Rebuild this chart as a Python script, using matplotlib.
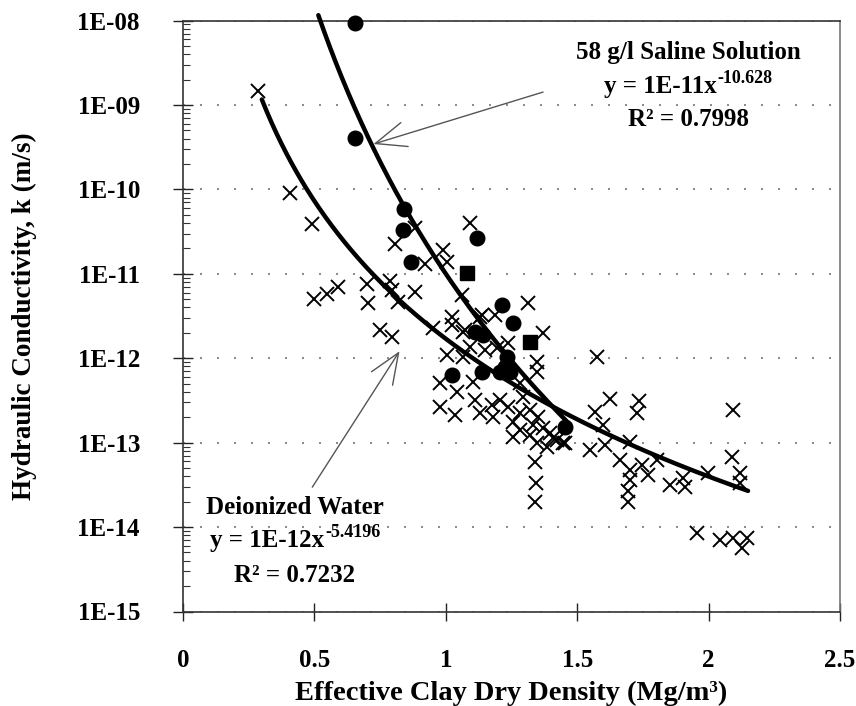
import numpy as np
import matplotlib
matplotlib.use("Agg")
import matplotlib.pyplot as plt
from matplotlib.ticker import LogLocator, NullFormatter, FixedLocator

plt.rcParams['font.family'] = ['Liberation Serif', 'DejaVu Serif']
plt.rcParams['font.weight'] = 'bold'

# ---- data: deionized water (x markers) ----
di_x = [0.285, 0.407, 0.491, 0.498, 0.548, 0.590, 0.700, 0.704, 0.788, 0.795,
        0.818, 0.807, 0.883, 0.921, 0.989, 1.005, 1.092, 0.883, 1.024, 1.062,
        1.138, 1.187, 0.750, 0.795, 0.951, 1.024, 1.065, 1.130, 1.313, 1.370,
        1.073, 1.092, 1.149, 1.195, 1.237, 1.005, 1.065, 1.347, 1.347, 0.978,
        1.043, 0.978, 1.035, 1.104, 1.282, 1.111, 1.130, 1.176, 1.180, 1.206,
        1.237, 1.256, 1.282, 1.294, 1.320, 1.351, 1.332, 1.370, 1.396, 1.423,
        1.446, 1.282, 1.320, 1.347, 1.385, 1.408, 1.256, 1.339, 1.343, 1.339,
        1.575, 1.625, 1.568, 1.735, 1.728, 1.598, 2.093, 1.454, 1.549, 1.606,
        1.701, 1.663, 1.701, 1.701, 1.693, 1.693, 1.747, 1.769, 1.804, 1.853,
        1.910, 1.903, 1.998, 2.089, 2.119, 2.119, 1.956, 2.043, 2.093, 2.146,
        2.127]
di_k = [1.46e-9, 9.0e-11, 3.9e-11, 5.0e-12, 5.7e-12, 7.0e-12, 7.5e-12, 4.5e-12, 8.2e-12, 6.4e-12,
        4.6e-12, 2.25e-11, 3.5e-11, 1.30e-11, 1.91e-11, 1.38e-11, 4.0e-11, 6.1e-12, 3.07e-12, 5.6e-12,
        3.24e-12, 3.24e-12, 2.15e-12, 1.78e-12, 2.28e-12, 2.47e-12, 2.04e-12, 3.07e-12, 4.5e-12, 1.98e-12,
        2.15e-12, 1.35e-12, 1.25e-12, 1.32e-12, 1.51e-12, 1.09e-12, 1.03e-12, 9.0e-13, 6.8e-13, 5.1e-13,
        3.96e-13, 2.64e-13, 2.12e-13, 5.2e-13, 5.1e-13, 3.18e-13, 2.24e-13, 2.78e-13, 2.0e-13, 3.18e-13,
        2.64e-13, 1.75e-13, 2.24e-13, 3.46e-13, 2.43e-13, 2.0e-13, 1.61e-13, 1.49e-13, 1.29e-13, 1.07e-13,
        9.9e-14, 1.41e-13, 1.23e-13, 9.9e-14, 8.8e-14, 1.13e-13, 1.16e-13, 5.9e-14, 3.3e-14, 1.97e-14,
        1.03e-12, 3.27e-13, 2.30e-13, 3.10e-13, 2.24e-13, 1.61e-13, 2.43e-13, 9.9e-14, 8.1e-14, 9.3e-14,
        1.01e-13, 6.2e-14, 4.7e-14, 3.6e-14, 2.7e-14, 1.97e-14, 5.4e-14, 4.1e-14, 6.2e-14, 3.13e-14,
        2.97e-14, 3.8e-14, 4.4e-14, 6.7e-14, 4.4e-14, 3.3e-14, 8.5e-15, 7.0e-15, 7.4e-15, 7.4e-15,
        5.6e-15]

# ---- data: 58 g/l saline solution (filled markers) ----
sal_x = [0.654, 0.654, 0.841, 0.837, 0.868, 1.119, 1.214, 1.256, 1.111, 1.142,
         1.233, 1.225, 1.024, 1.138, 1.206, 1.244, 1.454]
sal_k = [9.3e-9, 4.05e-10, 5.8e-11, 3.3e-11, 1.38e-11, 2.65e-11, 4.26e-12, 2.6e-12, 2.04e-12, 1.88e-12,
         1.03e-12, 7.85e-13, 6.3e-13, 6.8e-13, 6.8e-13, 6.8e-13, 1.53e-13]
sal_sq_x = [1.081, 1.320]
sal_sq_k = [1.02e-11, 1.55e-12]

# ---- power-law trend lines (coefficient, exponent from label) ----
di_coef, di_exp, di_range = 1.7e-12, -5.4196, (0.30, 2.15)
sal_coef, sal_exp, sal_range = 1.0e-11, -10.628, (0.515, 1.46)

x_ticks = [0, 0.5, 1, 1.5, 2, 2.5]
x_tick_labels = ['0', '0.5', '1', '1.5', '2', '2.5']
y_ticks = [1e-15, 1e-14, 1e-13, 1e-12, 1e-11, 1e-10, 1e-9, 1e-8]
y_tick_labels = ['1E-15', '1E-14', '1E-13', '1E-12', '1E-11', '1E-10', '1E-09', '1E-08']

W, H = 856, 706
fig = plt.figure(figsize=(W / 100, H / 100), dpi=100)
L, R, T, B = 183, 840, 20.5, 611.5
ax = fig.add_axes([L / W, (H - B) / H, (R - L) / W, (B - T) / H])

ax.set_yscale('log')
ax.set_xlim(0, 2.5)
ax.set_ylim(1e-15, 1e-8)

ax.plot(di_x, di_k, linestyle='none', marker='x', ms=10, mew=1.4, color='black', zorder=3)
ax.plot(sal_x, sal_k, linestyle='none', marker='o', ms=10.5, color='black', zorder=4, clip_on=False)
ax.plot(sal_sq_x, sal_sq_k, linestyle='none', marker='s', ms=9.5, color='black', zorder=4)

xd = np.linspace(di_range[0], di_range[1], 300)
ax.plot(xd, di_coef * xd ** di_exp, color='black', lw=3.2, solid_capstyle='round', zorder=5)
xs = np.linspace(sal_range[0], sal_range[1], 300)
ax.plot(xs, sal_coef * xs ** sal_exp, color='black', lw=3.2, solid_capstyle='round', zorder=5, clip_on=False)

# grid
ax.yaxis.grid(True, which='major', linestyle=(0, (1.2, 9)), lw=1.2, color='#777777')
ax.xaxis.grid(False)
ax.set_axisbelow(True)

# ticks
ax.xaxis.set_major_locator(FixedLocator(x_ticks))
ax.set_xticklabels(x_tick_labels)
ax.yaxis.set_major_locator(FixedLocator(y_ticks))
ax.set_yticklabels(y_tick_labels)
ax.yaxis.set_minor_locator(LogLocator(base=10, subs=np.arange(2, 10), numticks=20))
ax.yaxis.set_minor_formatter(NullFormatter())
ax.tick_params(axis='y', which='major', direction='inout', length=14, width=1.0,
               pad=24, labelsize=18, colors='#222222')
ax.tick_params(axis='y', which='minor', direction='in', length=5, width=0.8, color='#333333')
ax.tick_params(axis='x', which='major', direction='inout', length=12.5, width=1.0,
               pad=21, labelsize=18, colors='#222222')
ax.tick_params(top=False, right=False)
for lab in ax.get_xticklabels() + ax.get_yticklabels():
    lab.set_fontweight('bold')
    lab.set_color('black')

for s in ['left', 'bottom', 'top']:
    ax.spines[s].set_color('#333333')
    ax.spines[s].set_linewidth(1.2)
ax.spines['right'].set_color('#777777')
ax.spines['right'].set_linewidth(1.2)

ax.set_xlabel('Effective Clay Dry Density (Mg/m³)', fontsize=20.5, fontweight='bold')
ax.set_ylabel('Hydraulic Conductivity, k (m/s)', fontsize=19.5, fontweight='bold')
ax.xaxis.set_label_coords(0.5, -0.117)
ax.yaxis.set_label_coords(-0.222, 0.5)

# annotation texts
renderer = fig.canvas.get_renderer()


def ftext(px, py, s, size=18):
    fig.text(px / W, 1 - py / H, s, ha='center', va='center', fontsize=size, fontweight='bold')


def eqtext(px, py, base, sup, size=18, sup_size=13):
    t = fig.text(0, 1 - py / H, base, ha='left', va='center', fontsize=size, fontweight='bold')
    s = fig.text(0, 0, sup, ha='left', va='center', fontsize=sup_size, fontweight='bold')
    bb = t.get_window_extent(renderer)
    sb = s.get_window_extent(renderer)
    gap = 1.0
    x0 = px - (bb.width + gap + sb.width) / 2
    t.set_x(x0 / W)
    s.set_position(((x0 + bb.width + gap) / W, (bb.y1 - 3.0) / H))


ftext(688, 52, '58 g/l Saline Solution')
eqtext(688, 87, 'y = 1E-11x', '-10.628')
ftext(688, 120, 'R² = 0.7998')
ftext(295, 508, 'Deionized Water')
eqtext(295, 541, 'y = 1E-12x', '-5.4196')
ftext(295, 575, 'R² = 0.7232')

# arrows
arrow_kw = dict(arrowstyle='->,head_length=2.2,head_width=0.9', mutation_scale=10,
                lw=1.0, color='#555555', shrinkA=0, shrinkB=0)
ax.annotate('', xy=(0.725, 3.44e-10), xytext=(1.370, 1.42e-9), arrowprops=arrow_kw)
ax.annotate('', xy=(0.824, 1.21e-12), xytext=(0.492, 2.97e-14), arrowprops=arrow_kw)

fig.savefig('out.png', dpi=100)
